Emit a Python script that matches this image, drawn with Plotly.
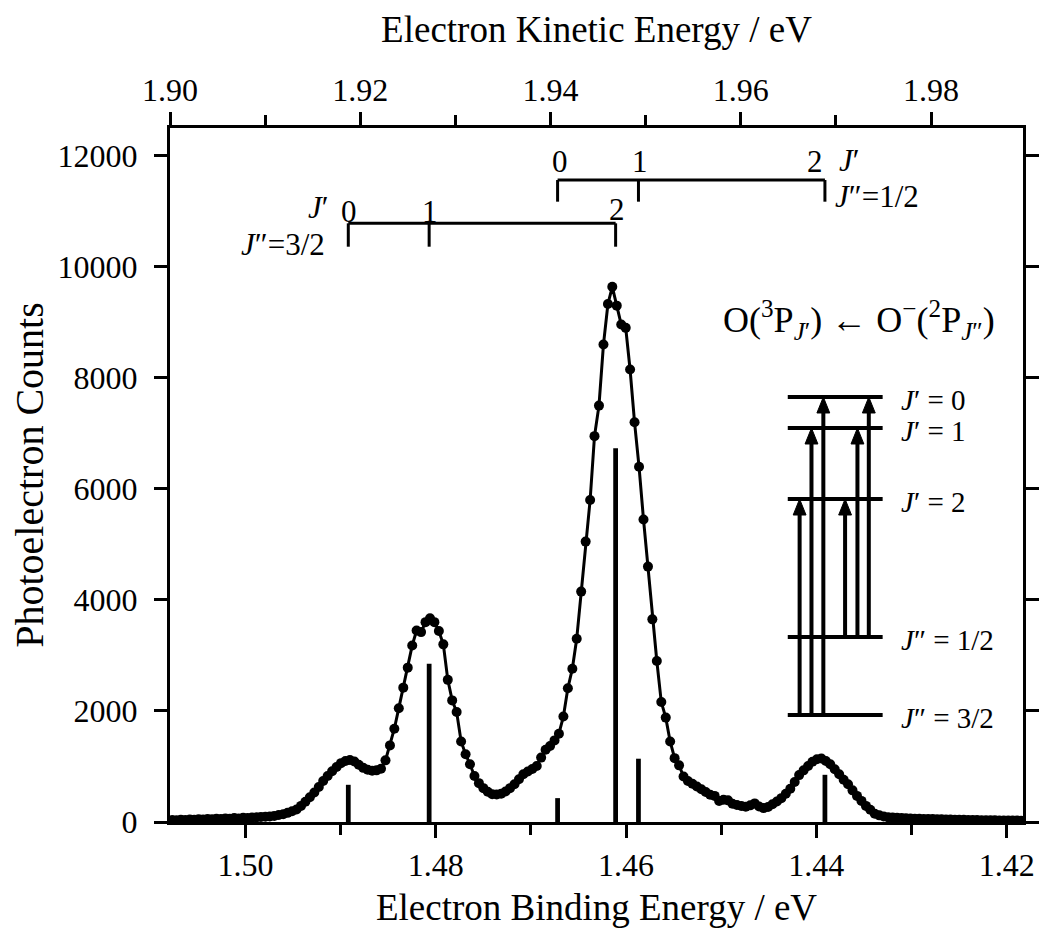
import plotly.graph_objects as go

# ---------------- data ----------------
PHOTON_ENERGY = 3.40794  # eV  (eBE + eKE)

ebe = [
    1.50773, 1.50726, 1.50680, 1.50633, 1.50586, 1.50539, 1.50493, 1.50446, 1.50399, 1.50352,
    1.50306, 1.50259, 1.50212, 1.50165, 1.50119, 1.50072, 1.50025, 1.49978, 1.49932, 1.49885,
    1.49838, 1.49791, 1.49745, 1.49698, 1.49651, 1.49604, 1.49558, 1.49511, 1.49464, 1.49417,
    1.49371, 1.49324, 1.49277, 1.49230, 1.49184, 1.49137, 1.49090, 1.49043, 1.48997, 1.48950,
    1.48903, 1.48856, 1.48810, 1.48763, 1.48716, 1.48669, 1.48623, 1.48576, 1.48529, 1.48482,
    1.48436, 1.48389, 1.48342, 1.48295, 1.48248, 1.48202, 1.48155, 1.48108, 1.48061, 1.48015,
    1.47968, 1.47921, 1.47874, 1.47828, 1.47781, 1.47734, 1.47687, 1.47641, 1.47594, 1.47547,
    1.47500, 1.47454, 1.47407, 1.47360, 1.47313, 1.47267, 1.47220, 1.47173, 1.47126, 1.47080,
    1.47033, 1.46986, 1.46939, 1.46893, 1.46846, 1.46799, 1.46752, 1.46706, 1.46659, 1.46612,
    1.46565, 1.46519, 1.46472, 1.46425, 1.46378, 1.46332, 1.46285, 1.46238, 1.46191, 1.46145,
    1.46098, 1.46051, 1.46004, 1.45958, 1.45911, 1.45864, 1.45817, 1.45770, 1.45724, 1.45677,
    1.45630, 1.45583, 1.45537, 1.45490, 1.45443, 1.45396, 1.45350, 1.45303, 1.45256, 1.45209,
    1.45163, 1.45116, 1.45069, 1.45022, 1.44976, 1.44929, 1.44882, 1.44835, 1.44789, 1.44742,
    1.44695, 1.44648, 1.44602, 1.44555, 1.44508, 1.44461, 1.44415, 1.44368, 1.44321, 1.44274,
    1.44228, 1.44181, 1.44134, 1.44087, 1.44041, 1.43994, 1.43947, 1.43900, 1.43854, 1.43807,
    1.43760, 1.43713, 1.43667, 1.43620, 1.43573, 1.43526, 1.43479, 1.43433, 1.43386, 1.43339,
    1.43292, 1.43246, 1.43199, 1.43152, 1.43105, 1.43059, 1.43012, 1.42965, 1.42918, 1.42872,
    1.42825, 1.42778, 1.42731, 1.42685, 1.42638, 1.42591, 1.42544, 1.42498, 1.42451, 1.42404,
    1.42357, 1.42311, 1.42264, 1.42217, 1.42170, 1.42124, 1.42077, 1.42030, 1.41983, 1.41937,
    1.41890, 1.41848,
]

counts = [
    35, 30, 40, 35, 45, 40, 50, 45, 55, 50,
    60, 55, 65, 60, 70, 65, 75, 70, 80, 85,
    90, 95, 100, 110, 125, 140, 165, 195, 225, 290,
    365, 445, 530, 630, 740, 830, 915, 990, 1060, 1100,
    1117, 1090, 1030, 975, 940, 925, 930, 960, 1110, 1380,
    1680, 2050, 2420, 2780, 3180, 3450, 3420, 3600, 3670, 3600,
    3440, 3200, 2560, 2190, 1980, 1450, 1220, 1040, 830, 700,
    610, 545, 500, 495, 510, 550, 610, 680, 770, 860,
    910, 955, 1010, 1160, 1300, 1370, 1470, 1590, 1900, 2410,
    2760, 3300, 4150, 5050, 5800, 6950, 7500, 8600, 9330, 9640,
    9300, 8960, 8900, 8150, 7200, 6400, 5450, 4600, 3650, 2900,
    2160, 1880, 1450, 1150, 1020, 820, 740, 690, 640, 590,
    540, 490, 470, 380, 400, 390, 330, 305, 290, 275,
    300, 335, 280, 250, 270, 320, 370, 430, 510, 600,
    720, 845, 930, 1010, 1085, 1130, 1145, 1100, 1040, 950,
    860, 760, 680, 570, 470, 380, 290, 220, 150, 120,
    100, 85, 80, 75, 70, 68, 65, 60, 58, 55,
    55, 52, 50, 48, 45, 45, 42, 40, 40, 38,
    36, 35, 33, 32, 30, 30, 28, 27, 26, 25,
    25, 24,
]

# fine-structure transitions (stick spectrum)
stick_ebe = [1.4892, 1.4807, 1.4672, 1.4611, 1.4587, 1.4391]
stick_counts = [670, 2850, 430, 6730, 1140, 850]

bottom_ticks = [1.50, 1.48, 1.46, 1.44, 1.42]
bottom_minor = [1.49, 1.47, 1.45, 1.43]
top_ticks = [1.90, 1.92, 1.94, 1.96, 1.98]
top_minor = [1.91, 1.93, 1.95, 1.97]
y_ticks = [0, 2000, 4000, 6000, 8000, 10000, 12000]

# bracket groups: J''=3/2 -> J'=0,1,2 and J''=1/2 -> J'=0,1,2
lower_bracket = [1.4892, 1.4807, 1.4611]
upper_bracket = [1.4672, 1.4587, 1.4391]
bracket_labels = ["0", "1", "2"]

level_labels = ["<i>J</i>′ = 0", "<i>J</i>′ = 1", "<i>J</i>′ = 2",
                "<i>J</i>″ = 1/2", "<i>J</i>″ = 3/2"]

# ---------------- layout constants ----------------
FONT = "Liberation Serif"
W, H = 1051, 943
ML, MR, MT, MB = 170, 18, 128, 121
PW, PH = W - ML - MR, H - MT - MB
X_RANGE = [1.50794, 1.41828]
Y_RANGE = [0, 12500]


def PX(px):
    return (px - ML) / PW


def PY(py):
    return (H - MB - py) / PH


fig = go.Figure()

fig.add_trace(go.Bar(x=stick_ebe, y=stick_counts, width=0.0005,
                     marker=dict(color="black", line=dict(width=0)),
                     showlegend=False, hoverinfo="skip"))

fig.add_trace(go.Scatter(x=ebe, y=counts, mode="lines+markers",
                         line=dict(color="black", width=3),
                         marker=dict(color="black", size=10),
                         showlegend=False))

# invisible trace to carry the kinetic-energy axis
fig.add_trace(go.Scatter(x=[PHOTON_ENERGY - e for e in stick_ebe], y=stick_counts,
                         xaxis="x2", mode="markers", marker=dict(opacity=0),
                         showlegend=False, hoverinfo="skip"))

shapes = []
annotations = []


def note(px, py, text, size, xanchor="center"):
    annotations.append(dict(x=PX(px), y=PY(py), xref="paper", yref="paper", text=text,
                            showarrow=False, xanchor=xanchor, yanchor="middle",
                            font=dict(family=FONT, size=size, color="black")))


# brackets
def bracket(xs, y_line, y_tick):
    shapes.append(dict(type="line", xref="x", yref="y", x0=xs[0], x1=xs[-1],
                       y0=y_line, y1=y_line, line=dict(color="black", width=3)))
    for xv in xs:
        shapes.append(dict(type="line", xref="x", yref="y", x0=xv, x1=xv,
                           y0=y_line, y1=y_tick, line=dict(color="black", width=3)))


bracket(upper_bracket, 11563, 11173)
bracket(lower_bracket, 10783, 10362)

LAB = 31
for xv, t, dx in zip(upper_bracket, bracket_labels, [2, 2, -10]):
    annotations.append(dict(x=xv, y=11893, xref="x", yref="y", text=t, showarrow=False,
                            xshift=dx, yanchor="middle",
                            font=dict(family=FONT, size=LAB, color="black")))
for xv, t, yv in zip(lower_bracket, bracket_labels, [10992, 10992, 11030]):
    annotations.append(dict(x=xv, y=yv, xref="x", yref="y", text=t, showarrow=False,
                            xshift=1, yanchor="middle",
                            font=dict(family=FONT, size=LAB, color="black")))

note(845, 161, "<i>J</i>′", LAB, "left")
note(841, 197, "<i>J</i>″=1/2", LAB, "left")
note(333, 207, "<i>J</i>′", LAB, "right")
note(329, 244, "<i>J</i>″=3/2", LAB, "right")

# reaction label
note(867, 320,
     "O(<sup>3</sup>P<sub><i>J</i>′</sub>) ← O<sup>−</sup>(<sup>2</sup>P<sub><i>J</i>″</sub>)",
     36)

# energy-level diagram
level_py = [397, 428, 499, 637, 715]
for py, t in zip(level_py, level_labels):
    shapes.append(dict(type="line", xref="paper", yref="paper", x0=PX(795), x1=PX(891),
                       y0=PY(py), y1=PY(py), line=dict(color="black", width=4)))
    note(908, py + 3, t, 29, "left")

arrows = [(807, 715, 499), (819, 715, 428), (831, 715, 397),
          (853, 637, 499), (865.5, 637, 428), (877, 637, 397)]
for ax, y_from, y_to in arrows:
    shapes.append(dict(type="line", xref="paper", yref="paper", x0=PX(ax), x1=PX(ax),
                       y0=PY(y_from), y1=PY(y_to + 12), line=dict(color="black", width=4)))
    path = "M {:.5f},{:.5f} L {:.5f},{:.5f} L {:.5f},{:.5f} Z".format(
        PX(ax), PY(y_to), PX(ax - 6.5), PY(y_to + 16), PX(ax + 6.5), PY(y_to + 16))
    shapes.append(dict(type="path", xref="paper", yref="paper", path=path,
                       fillcolor="black", line=dict(color="black", width=1)))

tick_font = dict(family=FONT, size=32, color="black")
title_font = dict(family=FONT, size=37, color="black")

fig.update_layout(
    width=W, height=H,
    margin=dict(l=ML, r=MR, t=MT, b=MB),
    paper_bgcolor="white", plot_bgcolor="white",
    barmode="overlay",
    shapes=shapes, annotations=annotations,
    xaxis=dict(range=X_RANGE, tickvals=bottom_ticks,
               ticktext=["{:.2f}".format(v) for v in bottom_ticks],
               ticks="outside", ticklen=13, tickwidth=3, tickcolor="black",
               minor=dict(tickvals=bottom_minor, ticks="outside", ticklen=10,
                          tickwidth=3, tickcolor="black"),
               showline=True, linewidth=3, linecolor="black", mirror=False,
               showgrid=False, zeroline=False, tickfont=tick_font, ticklabelstandoff=0,
               title=dict(text="Electron Binding Energy / eV", font=title_font, standoff=12)),
    xaxis2=dict(range=[PHOTON_ENERGY - X_RANGE[0], PHOTON_ENERGY - X_RANGE[1]],
                overlaying="x", side="top", anchor="y",
                tickvals=top_ticks, ticktext=["{:.2f}".format(v) for v in top_ticks],
                ticks="outside", ticklen=13, tickwidth=3, tickcolor="black",
                minor=dict(tickvals=top_minor, ticks="outside", ticklen=10,
                           tickwidth=3, tickcolor="black"),
                showline=True, linewidth=3, linecolor="black",
                showgrid=False, zeroline=False, tickfont=tick_font, ticklabelstandoff=-2,
                title=dict(text="Electron Kinetic Energy / eV", font=title_font, standoff=19)),
    yaxis=dict(range=Y_RANGE, tickvals=y_ticks, ticktext=[str(v) for v in y_ticks],
               ticks="outside", ticklen=13, tickwidth=3,
               tickcolor="black", showline=True, linewidth=3, linecolor="black",
               mirror="ticks", showgrid=False, zeroline=False, tickfont=tick_font,
               ticklabelstandoff=10,
               title=dict(text="Photoelectron Counts", font=dict(family=FONT, size=40, color="black"),
                          standoff=2)),
)

fig.write_html("out.html")
